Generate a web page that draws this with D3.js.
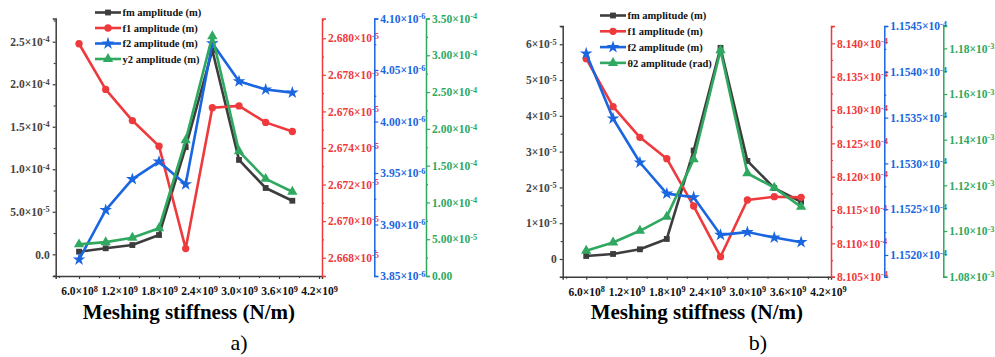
<!DOCTYPE html>
<html>
<head>
<meta charset="utf-8">
<script src="https://cdn.jsdelivr.net/npm/d3@7"></script>
<style>
  html, body { margin: 0; padding: 0; background: #fff; }
  svg { display: block; }
</style>
</head>
<body>
<svg id="chart" width="995" height="357"></svg>
<script>
// ---- data -------------------------------------------------------------
const stiffness = [6.0e8, 1.0e9, 1.4e9, 1.8e9, 2.2e9, 2.6e9, 3.0e9, 3.4e9, 3.8e9];

// panel a)
const aFm = [3.1e-6, 7.1e-6, 1.09e-5, 2.27e-5, 1.26e-4, 2.40e-4, 1.11e-4, 7.8e-5, 6.3e-5];
const aF1 = [2.6797e-5, 2.6772e-5, 2.6755e-5, 2.6741e-5, 2.6685e-5, 2.6762e-5, 2.6763e-5, 2.6754e-5, 2.6749e-5];
const aF2 = [3.866e-6, 3.914e-6, 3.944e-6, 3.961e-6, 3.939e-6, 4.076e-6, 4.039e-6, 4.031e-6, 4.028e-6];
const aY2 = [4.3e-5, 4.6e-5, 5.2e-5, 6.5e-5, 1.845e-4, 3.26e-4, 1.695e-4, 1.32e-4, 1.145e-4];

// panel b)
const bFm = [8.4e-7, 1.4e-6, 2.7e-6, 5.6e-6, 3.03e-5, 5.9e-5, 2.74e-5, 1.98e-5, 1.6e-5];
const bF1 = [8.1377e-4, 8.1305e-4, 8.1259e-4, 8.1227e-4, 8.1156e-4, 8.1080e-4, 8.1165e-4, 8.1170e-4, 8.1169e-4];
const bF2 = [1.15420e-4, 1.15349e-4, 1.15301e-4, 1.15267e-4, 1.15263e-4, 1.15222e-4, 1.15225e-4, 1.15219e-4, 1.15214e-4];
const bTheta2 = [1.0914e-3, 1.0950e-3, 1.1001e-3, 1.1063e-3, 1.1314e-3, 1.1792e-3, 1.1253e-3, 1.1190e-3, 1.1106e-3];

// legend labels
const aLabels = ["fm amplitude (m)", "f1 amplitude (m)", "f2 amplitude (m)", "y2 amplitude (m)"];
const bLabels = ["fm amplitude (m)", "f1 amplitude (m)", "f2 amplitude (m)", "\u03B82 amplitude (rad)"];

// tick values
const xTicks = [6e8, 1.2e9, 1.8e9, 2.4e9, 3.0e9, 3.6e9, 4.2e9];
const aLeftTicks = [0, 5e-5, 1e-4, 1.5e-4, 2e-4, 2.5e-4];
const aRedTicks = [2.668e-5, 2.670e-5, 2.672e-5, 2.674e-5, 2.676e-5, 2.678e-5, 2.680e-5];
const aBlueTicks = [3.85e-6, 3.90e-6, 3.95e-6, 4.00e-6, 4.05e-6, 4.10e-6];
const aGreenTicks = [0, 5e-5, 1e-4, 1.5e-4, 2e-4, 2.5e-4, 3e-4, 3.5e-4];
const bLeftTicks = [0, 1e-5, 2e-5, 3e-5, 4e-5, 5e-5, 6e-5];
const bRedTicks = [8.105e-4, 8.110e-4, 8.115e-4, 8.120e-4, 8.125e-4, 8.130e-4, 8.135e-4, 8.140e-4];
const bBlueTicks = [1.1520e-4, 1.1525e-4, 1.1530e-4, 1.1535e-4, 1.1540e-4, 1.1545e-4];
const bGreenTicks = [1.08e-3, 1.10e-3, 1.12e-3, 1.14e-3, 1.16e-3, 1.18e-3];

// ---- styling ----------------------------------------------------------
const FONT = '"Liberation Serif", "Times New Roman", Times, serif';
const C_DARK = "#3d3d3d", C_RED = "#ee3a3c", C_BLUE = "#1a66e0", C_GREEN = "#2fa860";
const TICK_FS = 11.5;

const svg = d3.select("#chart").attr("font-family", FONT);

// writes "m.mm×10^e" with a raised exponent into a tick label
function sciLabel(text, v, dec) {
  text.text(null);
  if (Math.abs(v) < 1e-30) { text.append("tspan").text((0).toFixed(dec)); return; }
  const e = Math.floor(Math.log10(Math.abs(v)) + 1e-9);
  const m = v / Math.pow(10, e);
  text.append("tspan").text(m.toFixed(dec) + "\u00D710");
  text.append("tspan").attr("dy", "-0.42em").attr("font-size", "0.72em").text(String(e));
}

// midpoints between major ticks (plus half-steps beyond the ends) inside the domain
function minorTicks(ticks, domain) {
  const step = ticks[1] - ticks[0];
  const lo = Math.min(domain[0], domain[1]), hi = Math.max(domain[0], domain[1]);
  const out = [];
  for (let i = -1; i < ticks.length; i++) {
    const v = ticks[0] + (i + 0.5) * step;
    if (v >= lo - step * 1e-6 && v <= hi + step * 1e-6) out.push(v);
  }
  return out;
}

function drawAxis(parent, maker, scale, ticks, dec, opts) {
  const g = parent.append("g").attr("transform", opts.transform).attr("color", opts.color);
  g.call(maker(scale).tickValues(ticks).tickSizeOuter(0).tickSize(opts.major)
          .tickPadding(opts.pad).tickFormat(() => ""));
  g.attr("font-family", FONT).attr("font-size", TICK_FS);
  g.select(".domain").attr("stroke-width", 1.5);
  g.selectAll(".tick line").attr("stroke-width", 1.2);
  g.selectAll(".tick text")
    .attr("font-size", TICK_FS).attr("font-weight", "bold").attr("fill", opts.label)
    .attr("font-family", FONT)
    .each(function (d) { sciLabel(d3.select(this), d, dec); });
  const m = parent.append("g").attr("transform", opts.transform).attr("color", opts.color);
  m.call(maker(scale).tickValues(minorTicks(ticks, scale.domain())).tickSizeOuter(0)
          .tickSize(opts.minor).tickFormat(() => ""));
  m.select(".domain").remove();
  m.selectAll(".tick line").attr("stroke-width", 1.2);
  return g;
}

const symbols = [d3.symbolSquare, d3.symbolCircle, d3.symbolStar, d3.symbolTriangle];
const symbolSizes = [34, 42, 50, 46];
const colors = [C_DARK, C_RED, C_BLUE, C_GREEN];

function drawPanel(cfg) {
  const g = svg.append("g");
  const x = d3.scaleLinear().domain([2.5e8, 4.245e9]).range([cfg.left, cfg.right]);
  const yScales = cfg.domains.map(d => d3.scaleLinear().domain(d).range([cfg.bottom, cfg.top]));

  // axes
  drawAxis(g, d3.axisBottom, x, xTicks, 1,
    { transform: `translate(0,${cfg.bottom})`, color: C_DARK, label: "#111", major: 3, minor: 2, pad: 8 });
  drawAxis(g, d3.axisLeft, yScales[0], cfg.ticks[0], cfg.decs[0],
    { transform: `translate(${cfg.left},0)`, color: C_DARK, label: "#444", major: 3, minor: 2, pad: 3 });
  drawAxis(g, d3.axisRight, yScales[1], cfg.ticks[1], cfg.decs[1],
    { transform: `translate(${cfg.right},0)`, color: C_RED, label: C_RED, major: 4, minor: 2, pad: 2 });
  drawAxis(g, d3.axisRight, yScales[2], cfg.ticks[2], cfg.decs[2],
    { transform: `translate(${cfg.blueX},0)`, color: C_BLUE, label: C_BLUE, major: 4, minor: 2, pad: 2 });
  drawAxis(g, d3.axisRight, yScales[3], cfg.ticks[3], cfg.decs[3],
    { transform: `translate(${cfg.greenX},0)`, color: C_GREEN, label: C_GREEN, major: 4, minor: 2, pad: 2 });

  // series
  cfg.series.forEach((vals, i) => {
    const y = yScales[i];
    const pts = stiffness.map((s, k) => [x(s), y(vals[k])]);
    g.append("path").datum(pts)
      .attr("d", d3.line())
      .attr("fill", "none").attr("stroke", colors[i]).attr("stroke-width", 2.6)
      .attr("stroke-linejoin", "round");
    g.append("g").selectAll("path").data(pts).join("path")
      .attr("transform", p => `translate(${p[0]},${p[1]})`)
      .attr("d", d3.symbol(symbols[i], symbolSizes[i]))
      .attr("fill", colors[i]);
  });

  // legend
  const lg = g.append("g");
  cfg.labels.forEach((lab, i) => {
    const yy = cfg.legendY + i * cfg.legendStep;
    lg.append("line").attr("x1", cfg.legendX).attr("x2", cfg.legendX + 26)
      .attr("y1", yy).attr("y2", yy).attr("stroke", colors[i]).attr("stroke-width", 2.6);
    lg.append("path").attr("transform", `translate(${cfg.legendX + 13},${yy})`)
      .attr("d", d3.symbol(symbols[i], symbolSizes[i])).attr("fill", colors[i]);
    lg.append("text").attr("x", cfg.legendX + 27.5).attr("y", yy).attr("dy", "0.35em")
      .attr("font-size", 10.5).attr("font-weight", "bold").attr("fill", "#111").text(lab);
  });

  // x title and panel letter
  g.append("text").attr("x", (cfg.left + cfg.right) / 2).attr("y", 319)
    .attr("text-anchor", "middle").attr("font-size", 21).attr("font-weight", "bold")
    .attr("fill", "#000").text("Meshing stiffness (N/m)");
  g.append("text").attr("x", cfg.letterX).attr("y", 350)
    .attr("text-anchor", "middle").attr("font-size", 22).attr("fill", "#000").text(cfg.letter);
}

drawPanel({
  left: 55.7, right: 322, top: 18.5, bottom: 276, blueX: 374.3, greenX: 426,
  domains: [[-2.55e-5, 2.773e-4], [2.667e-5, 2.68108e-5], [3.85e-6, 4.10e-6], [0, 3.5e-4]],
  ticks: [aLeftTicks, aRedTicks, aBlueTicks, aGreenTicks],
  decs: [1, 3, 2, 2],
  series: [aFm, aF1, aF2, aY2],
  labels: aLabels,
  legendX: 95, legendY: 12.5, legendStep: 15.5,
  letter: "a)", letterX: 239
});

drawPanel({
  left: 562.7, right: 831, top: 26, bottom: 276.7, blueX: 884.3, greenX: 943.3,
  domains: [[-4.95e-6, 6.51e-5], [8.105e-4, 8.1426e-4], [1.151763e-4, 1.1545e-4], [1.08e-3, 1.1898e-3]],
  ticks: [bLeftTicks, bRedTicks, bBlueTicks, bGreenTicks],
  decs: [0, 3, 4, 2],
  series: [bFm, bF1, bF2, bTheta2],
  labels: bLabels,
  legendX: 600, legendY: 15.5, legendStep: 15.8,
  letter: "b)", letterX: 758
});
</script>
</body>
</html>
